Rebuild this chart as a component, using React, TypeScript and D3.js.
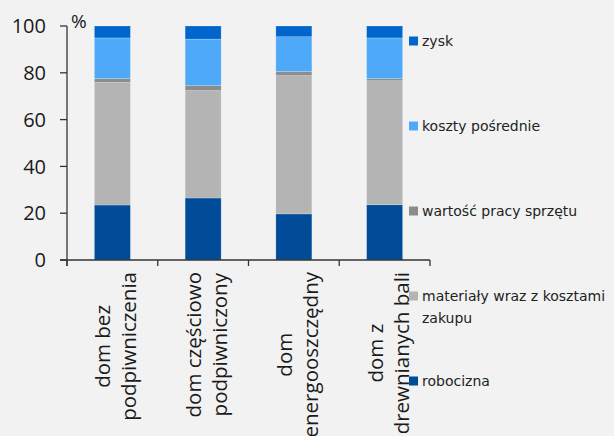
import React, { useEffect, useRef } from "react";
import * as d3 from "d3";

const categories: string[][] = [
  ["dom bez", "podpiwniczenia"],
  ["dom częściowo", "podpiwniczony"],
  ["dom", "energooszczędny"],
  ["dom z", "drewnianych bali"],
];
const robocizna = [23.5, 26.5, 19.7, 23.6];
const materialy = [52.4, 45.9, 59.1, 53.0];
const sprzet = [1.6, 2.1, 1.7, 0.9];
const posrednie = [17.4, 19.9, 14.9, 17.4];
const zysk = [5.1, 5.6, 4.6, 5.1];
const yTicks = [0, 20, 40, 60, 80, 100];

const seriesNames = ["robocizna", "materiały wraz z kosztami zakupu", "wartość pracy sprzętu", "koszty pośrednie", "zysk"];
const seriesValues = [robocizna, materialy, sprzet, posrednie, zysk];
const seriesColors = ["#004c99", "#b4b4b4", "#8c8c8c", "#4eaaf8", "#0066cc"];
const legendLines: string[][] = [
  ["zysk"],
  ["koszty pośrednie"],
  ["wartość pracy sprzętu"],
  ["materiały wraz z kosztami", "zakupu"],
  ["robocizna"],
];
const legendColorIdx = [4, 3, 2, 1, 0];

export default function App() {
  const ref = useRef<SVGSVGElement>(null);
  useEffect(() => {
    const svg = d3.select(ref.current);
    svg.selectAll("*").remove();
    const W = 614, H = 436;
    svg.append("rect").attr("width", W).attr("height", H).attr("fill", "#f2f2f2");

    const x = d3.scaleBand<number>().domain(categories.map((_, i) => i)).range([67, 430]).paddingInner(0.6033).paddingOuter(0.3017);
    const y = d3.scaleLinear().domain([0, 100]).range([260, 26]);

    const rows = categories.map((_, i) => {
      const o: any = { i };
      seriesNames.forEach((n, k) => (o[n] = seriesValues[k][i]));
      return o;
    });
    const stacked = d3.stack<any>().keys(seriesNames)(rows);

    const g = svg.append("g");
    stacked.forEach((s, k) => {
      g.selectAll(null)
        .data(s)
        .enter()
        .append("rect")
        .attr("x", (d: any) => x(d.data.i)!)
        .attr("width", x.bandwidth())
        .attr("y", (d: any) => y(d[1]))
        .attr("height", (d: any) => y(d[0]) - y(d[1]))
        .attr("fill", seriesColors[k])
        .attr("stroke", "rgba(255,255,255,0.35)")
        .attr("stroke-width", 0.6);
    });

    const axisColor = "#333";
    // y axis
    svg.append("line").attr("x1", 67).attr("x2", 67).attr("y1", y(100)).attr("y2", 266).attr("stroke", axisColor).attr("stroke-width", 1.3);
    yTicks.forEach((t) => {
      svg.append("line").attr("x1", 60).attr("x2", 67).attr("y1", y(t)).attr("y2", y(t)).attr("stroke", axisColor).attr("stroke-width", 1.3);
      svg.append("text").attr("x", 46).attr("y", y(t)).attr("dy", "0.36em").attr("text-anchor", "end")
        .attr("font-family", "Open Sans").attr("font-size", 20).attr("fill", "#1a1a1a").text(String(t));
    });
    svg.append("text").attr("x", 71).attr("y", 28).attr("font-family", "Open Sans").attr("font-size", 19).attr("fill", "#1a1a1a").text("%");

    // x axis
    svg.append("line").attr("x1", 60).attr("x2", 430).attr("y1", 260).attr("y2", 260).attr("stroke", axisColor).attr("stroke-width", 1.3);
    const step = x.step();
    for (let i = 0; i <= categories.length; i++) {
      const tx = 67 + i * step;
      svg.append("line").attr("x1", tx).attr("x2", tx).attr("y1", 260).attr("y2", 266).attr("stroke", axisColor).attr("stroke-width", 1.3);
    }

    // x labels (rotated)
    categories.forEach((lines, i) => {
      const cx = x(i)! + x.bandwidth() / 2;
      const texts = lines.map((ln) =>
        svg.append("text").attr("text-anchor", "middle").attr("font-family", "Open Sans").attr("font-size", 20.5).attr("fill", "#1a1a1a").text(ln)
      );
      const maxLen = d3.max(texts, (t) => (t.node() as SVGTextElement).getComputedTextLength()) || 0;
      const yc = 272 + maxLen / 2;
      texts.forEach((t, j) => {
        const bx = cx - 2 + j * 26;
        t.attr("transform", `translate(${bx},${yc}) rotate(-90)`);
      });
    });

    // legend
    legendLines.forEach((lines, k) => {
      const cy = 41 + k * 85;
      svg.append("rect").attr("x", 409).attr("y", cy - 4.5).attr("width", 9).attr("height", 9).attr("fill", seriesColors[legendColorIdx[k]]);
      lines.forEach((ln, j) => {
        svg.append("text").attr("x", 422).attr("y", cy + j * 22).attr("dy", "0.35em")
          .attr("font-family", "DejaVu Sans").attr("font-size", 14).attr("fill", "#222").text(ln);
      });
    });
  }, []);
  return (
    <div style={{ position: "absolute", left: 0, top: 0 }}>
      <svg ref={ref} width={614} height={436} style={{ display: "block" }} />
    </div>
  );
}
